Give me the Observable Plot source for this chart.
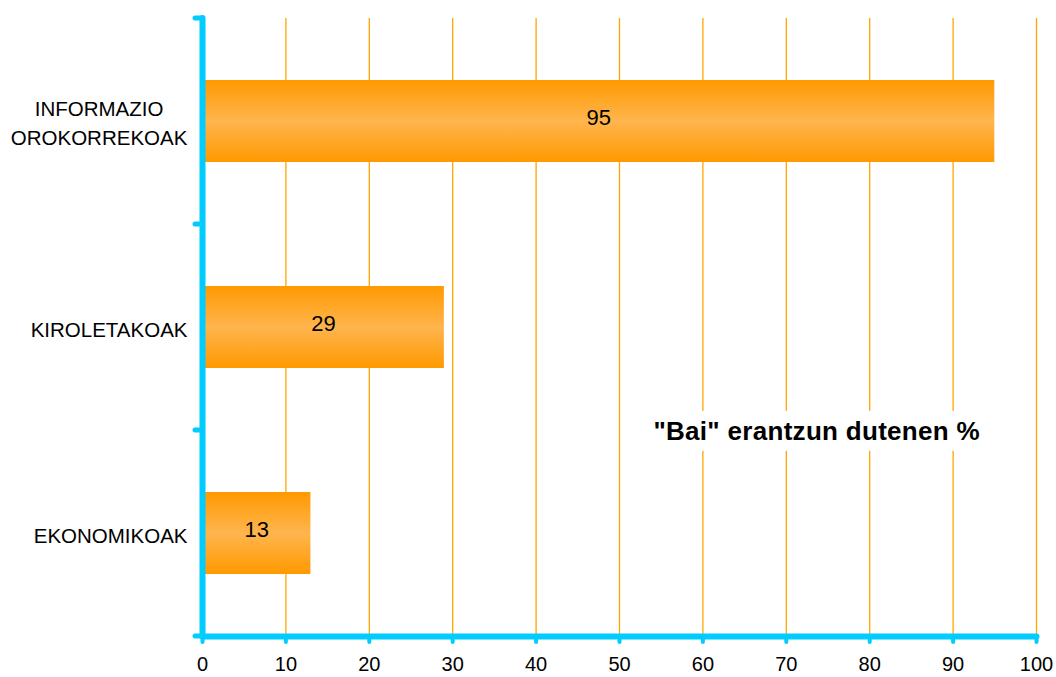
<!DOCTYPE html>
<html>
<head>
<meta charset="utf-8">
<script src="https://cdn.jsdelivr.net/npm/d3@7"></script>
<script src="https://cdn.jsdelivr.net/npm/@observablehq/plot@0.6"></script>
<style>
  html, body { margin: 0; padding: 0; background: white; }
</style>
</head>
<body>
<div id="chart"></div>
<script>
const categories = ["INFORMAZIO\nOROKORREKOAK", "KIROLETAKOAK", "EKONOMIKOAK"];
const values = [95, 29, 13];
const xTicks = [0, 10, 20, 30, 40, 50, 60, 70, 80, 90, 100];
const noteText = "\"Bai\" erantzun dutenen %";
const noteX = 73.7;

const data = categories.map((c, i) => ({category: c, value: values[i]}));
const cyan = "#00CCFF";

function bandBoundaries(index, scales, values, dims) {
  const y = scales.y;
  const step = y.step();
  const half = (step - y.bandwidth()) / 2;
  const bounds = categories.map(c => y(c) - half);
  bounds.push(y(categories[categories.length - 1]) + y.bandwidth() + half);
  const x0 = scales.x(0);
  const g = d3.create("svg:g");
  g.selectAll("line").data(bounds).join("line")
    .attr("x1", x0 - 7).attr("x2", x0)
    .attr("y1", d => d).attr("y2", d => d)
    .attr("stroke", cyan).attr("stroke-width", 5).attr("stroke-linecap", "round");
  return g.node();
}

function note(index, scales, values, dims) {
  const y = scales.y;
  const half = (y.step() - y.bandwidth()) / 2;
  const yy = y(categories[2]) - half;
  const g = d3.create("svg:g").attr("class", "note");
  g.append("rect").attr("fill", "white");
  g.append("text")
    .attr("x", scales.x(noteX)).attr("y", yy)
    .attr("text-anchor", "middle").attr("dy", "0.38em")
    .attr("font-size", 26).attr("font-weight", "bold")
    .attr("letter-spacing", "0.3px")
    .attr("fill", "black")
    .text(noteText);
  return g.node();
}

const svg = Plot.plot({
  width: 1056,
  height: 677,
  marginLeft: 202,
  marginRight: 20,
  marginTop: 18,
  marginBottom: 41,
  style: {fontFamily: "'Liberation Sans', Arial, sans-serif", background: "white"},
  x: {domain: [0, 100], label: null},
  y: {domain: categories, paddingInner: 0.6, paddingOuter: 0.3, label: null},
  marks: [
    Plot.gridX(xTicks, {stroke: "#FFA500", strokeOpacity: 1, strokeWidth: 1.3}),
    note,
    Plot.barX(data, {x: "value", y: "category", fill: "url(#barGrad)"}),
    Plot.text(data, {x: d => d.value / 2, y: "category", text: d => String(d.value), fontSize: 22, fill: "black", dy: -4}),
    Plot.axisX(xTicks, {tickSize: 6, tickPadding: 14, stroke: cyan, strokeWidth: 4, strokeLinecap: "round", fontSize: 20, fill: "black", label: null}),
    Plot.axisY({tickSize: 0, tickPadding: 15, fontSize: 20.5, lineHeight: 1.42, fill: "black", letterSpacing: "-0.15px", label: null}),
    Plot.ruleX([0], {stroke: cyan, strokeWidth: 6, strokeLinecap: "round"}),
    Plot.frame({anchor: "bottom", stroke: cyan, strokeWidth: 6, strokeLinecap: "round"}),
    bandBoundaries
  ]
});

const defs = d3.select(svg).insert("defs", ":first-child");
const grad = defs.append("linearGradient").attr("id", "barGrad")
  .attr("x1", 0).attr("y1", 0).attr("x2", 0).attr("y2", 1);
grad.append("stop").attr("offset", "0%").attr("stop-color", "#FF9900");
grad.append("stop").attr("offset", "50%").attr("stop-color", "#FFB54E");
grad.append("stop").attr("offset", "100%").attr("stop-color", "#FF9900");

document.getElementById("chart").appendChild(svg);

// center multi-line category labels as a block
d3.select(svg).selectAll("text").each(function() {
  const tspans = this.querySelectorAll("tspan");
  if (tspans.length > 1) {
    const w = this.getBBox().width;
    this.setAttribute("text-anchor", "middle");
    this.style.textAnchor = "middle";
    tspans.forEach(t => t.setAttribute("x", -w / 2));
  }
});

// white box behind the note
d3.select(svg).selectAll("g.note").each(function() {
  const t = d3.select(this).select("text").node();
  const b = t.getBBox();
  d3.select(this).select("rect")
    .attr("x", b.x - 4).attr("y", b.y - 5)
    .attr("width", b.width + 8).attr("height", b.height + 10);
});
</script>
</body>
</html>
